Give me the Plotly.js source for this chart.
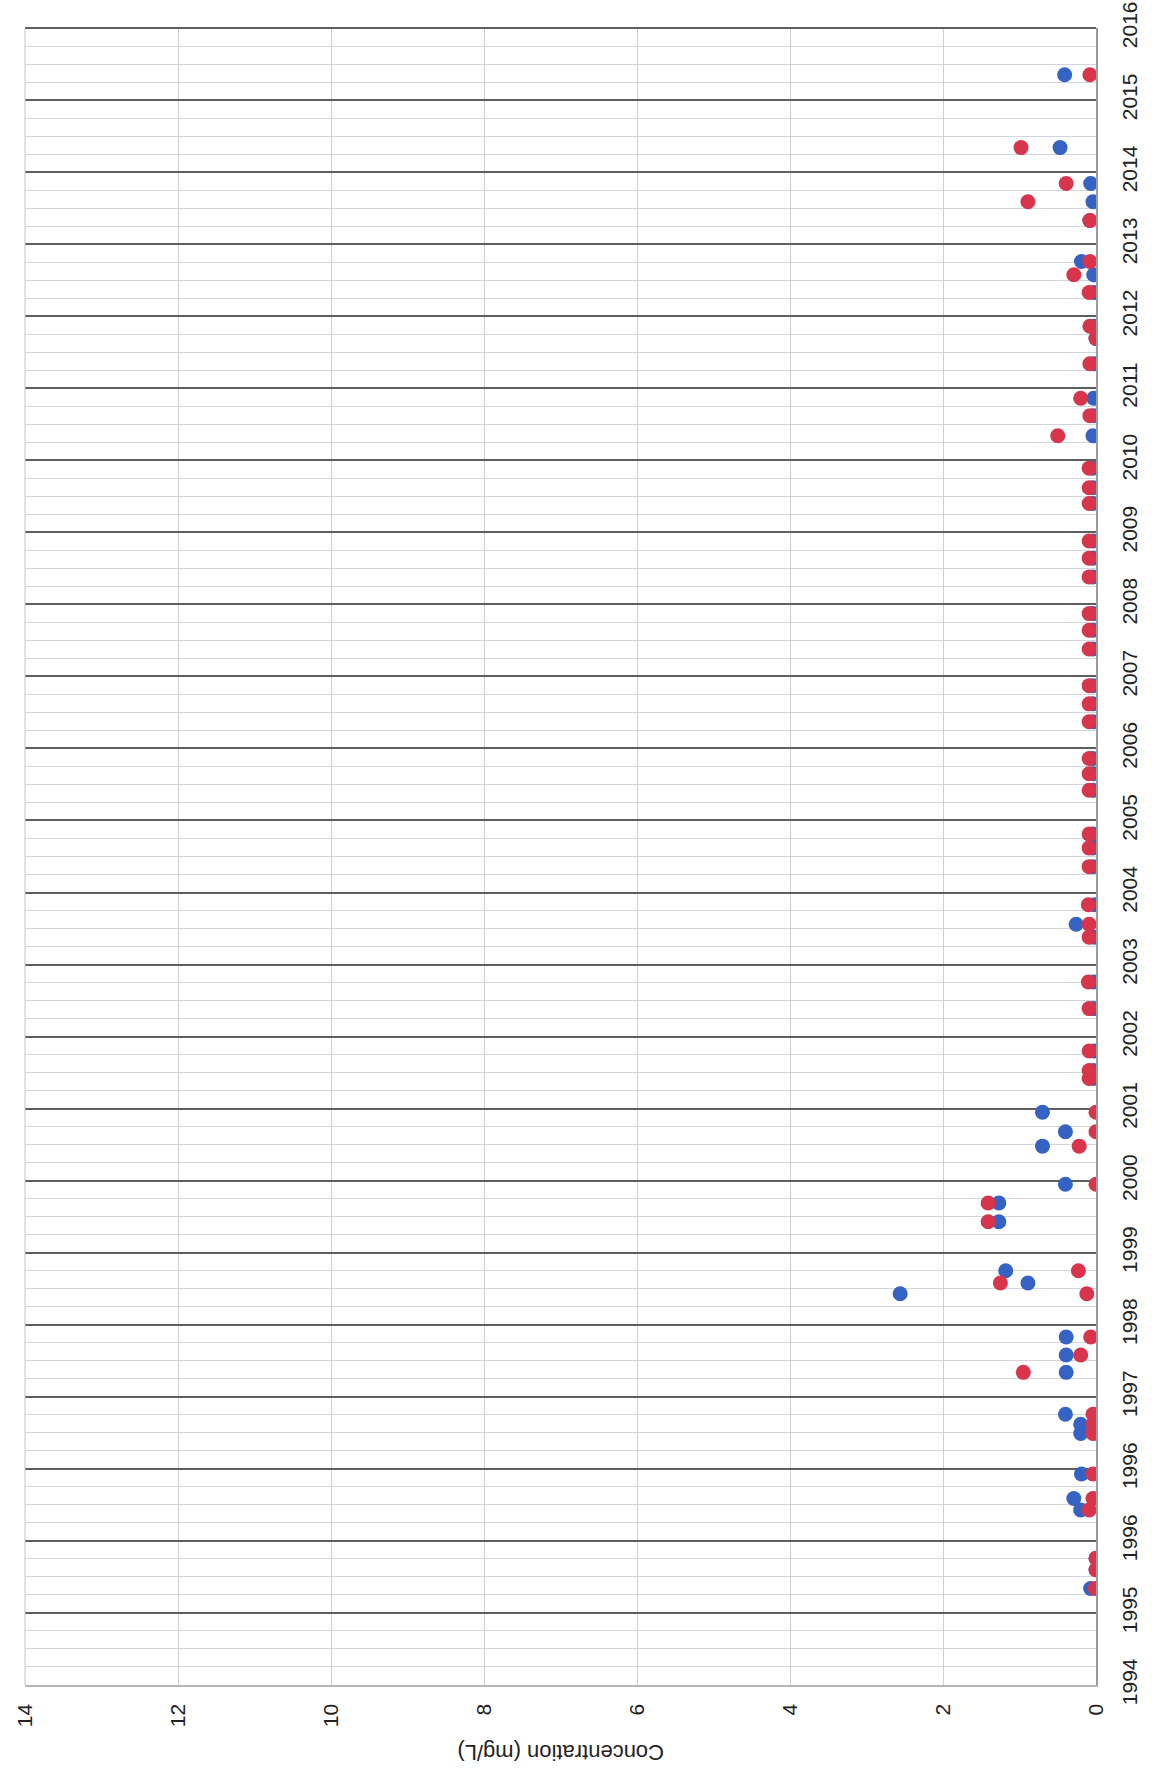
<!DOCTYPE html>
<html>
<head>
<meta charset="utf-8">
<script src="https://cdn.plot.ly/plotly-3.0.1.min.js"></script>
<style>
  html, body { margin: 0; padding: 0; background: #ffffff; }
  #chart { width: 1156px; height: 1773px; }
</style>
</head>
<body>
<div id="chart"></div>
<script>
// Sampling dates (shared by both series)
const sampleDates = [
  "1995-05-05","1995-08-08","1995-10-05",
  "1996-06-06","1996-08-03","1996-12-05",
  "1997-06-28","1997-08-14","1997-10-04",
  "1998-05-04","1998-07-31","1998-10-30",
  "1999-06-06","1999-07-31","1999-10-01",
  "2000-06-05","2000-09-08","2000-12-12",
  "2001-06-23","2001-09-04","2001-12-12",
  "2002-06-01","2002-07-11","2002-10-18",
  "2003-05-21","2003-10-03",
  "2004-05-17","2004-07-21","2004-10-28",
  "2005-05-09","2005-08-12","2005-10-21",
  "2006-05-31","2006-08-23","2006-11-08",
  "2007-05-13","2007-08-12","2007-11-12",
  "2008-05-16","2008-08-19","2008-11-11",
  "2009-05-16","2009-08-19","2009-11-14",
  "2010-05-23","2010-08-11","2010-11-18",
  "2011-05-01","2011-08-11","2011-11-07",
  "2012-04-30","2012-09-05","2012-11-06",
  "2013-04-26","2013-07-25","2013-09-30",
  "2014-04-26","2014-07-30","2014-10-30",
  "2015-04-30",
  "2016-05-03"
];

// Blue series concentration (mg/L)
const blueValues = [
  0.07,0.00,0.00,
  0.20,0.29,0.19,
  0.20,0.20,0.40,
  0.39,0.39,0.39,
  2.56,0.89,1.18,
  1.27,1.27,0.40,
  0.70,0.40,0.70,
  0.03,0.03,0.03,
  0.03,0.03,
  0.02,0.26,0.02,
  0.04,0.04,0.04,
  0.04,0.04,0.04,
  0.04,0.04,0.04,
  0.04,0.04,0.04,
  0.04,0.04,0.04,
  0.04,0.04,0.04,
  0.04,0.03,0.03,
  0.03,0.00,0.03,
  0.03,0.03,0.19,
  0.08,0.04,0.07,
  0.47,
  0.41
];

// Red series concentration (mg/L)
const redValues = [
  0.01,0.00,0.00,
  0.09,0.04,0.04,
  0.04,0.04,0.04,
  0.95,0.20,0.07,
  0.12,1.25,0.23,
  1.41,1.41,0.00,
  0.22,0.00,0.00,
  0.09,0.09,0.09,
  0.09,0.10,
  0.09,0.09,0.10,
  0.09,0.09,0.09,
  0.09,0.09,0.09,
  0.09,0.09,0.09,
  0.09,0.09,0.09,
  0.09,0.09,0.09,
  0.09,0.09,0.09,
  0.50,0.08,0.20,
  0.08,0.00,0.08,
  0.09,0.29,0.08,
  0.08,0.89,0.39,
  0.98,
  0.08
];

// Concentration axis ticks
const concTicks = [0, 2, 4, 6, 8, 10, 12, 14];
const concRange = [14, 0];
// Time axis: Excel-style date axis, 365-day major unit
const timeStart = "1994-01-01";
const timeEnd = "2016-12-26";
const DAY_MS = 86400000;

const fontFam = "'Liberation Sans', Arial, sans-serif";

const traces = [
  {
    type: "scatter", mode: "markers", name: "Blue",
    x: blueValues, y: sampleDates,
    marker: { color: "#3563c3", size: 15, line: { width: 0 } }
  },
  {
    type: "scatter", mode: "markers", name: "Red",
    x: redValues, y: sampleDates,
    marker: { color: "#d8344c", size: 15, line: { width: 0 } }
  }
];

const layout = {
  width: 1156, height: 1773,
  margin: { l: 25, r: 60, t: 28, b: 88, pad: 0 },
  paper_bgcolor: "#ffffff",
  plot_bgcolor: "#ffffff",
  showlegend: false,
  font: { family: fontFam, color: "#222222", size: 21 },
  xaxis: {
    range: concRange,
    tickmode: "array",
    tickvals: concTicks,
    ticktext: concTicks.map(String),
    tickangle: -90,
    tickfont: { family: fontFam, size: 21, color: "#222222" },
    ticks: "",
    ticklabelstandoff: 9,
    showgrid: true, gridcolor: "#cfcfcf", gridwidth: 1,
    zeroline: false,
    showline: true, linecolor: "#b5b5b5", linewidth: 1.5,
    mirror: false
  },
  yaxis: {
    type: "date",
    side: "right",
    range: [timeStart, timeEnd],
    tickmode: "linear",
    tick0: timeStart,
    dtick: 365 * DAY_MS,
    tickformat: "%Y",
    tickangle: -90,
    tickfont: { family: fontFam, size: 21, color: "#222222" },
    ticks: "",
    ticklabelstandoff: 14,
    showgrid: true, gridcolor: "#5e5e5e", gridwidth: 2,
    minor: {
      tick0: timeStart,
      dtick: 365 * DAY_MS / 4,
      showgrid: true, gridcolor: "#d4d4dc", gridwidth: 1,
      ticks: ""
    },
    zeroline: false,
    showline: true, linecolor: "#9a9a9a", linewidth: 1.5,
    mirror: false
  },
  shapes: [
    // plot frame: top edge (dark, like the year lines) and left edge (light)
    { type: "line", xref: "paper", yref: "paper", x0: 0, x1: 1, y0: 1, y1: 1,
      line: { color: "#5e5e5e", width: 2 } },
    { type: "line", xref: "paper", yref: "paper", x0: 0, x1: 0, y0: 0, y1: 1,
      line: { color: "#c4c4c4", width: 1 } }
  ],
  annotations: [
    {
      text: "Concentration (mg/L)",
      xref: "paper", yref: "paper",
      x: 0.5, y: -0.0404,
      xanchor: "center", yanchor: "middle",
      textangle: 180,
      showarrow: false,
      font: { family: fontFam, size: 22, color: "#222222" }
    }
  ]
};

Plotly.newPlot("chart", traces, layout, { staticPlot: true, displayModeBar: false });
</script>
</body>
</html>
